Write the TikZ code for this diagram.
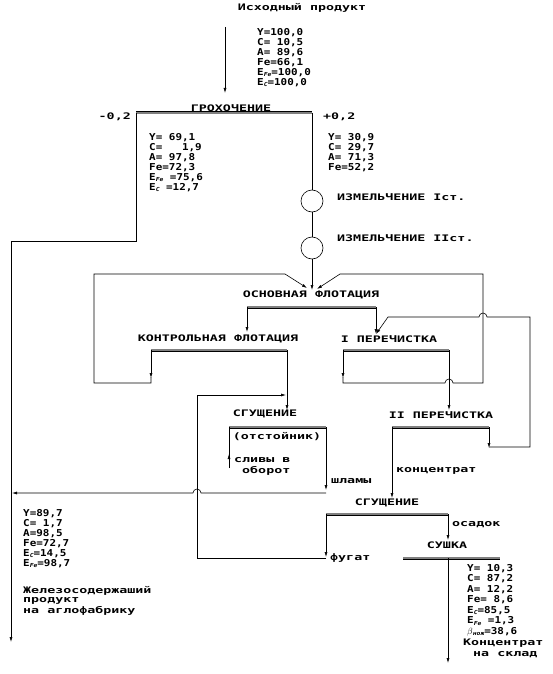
\documentclass[tikz,border=0pt]{standalone}
\usepackage{fontspec}
\newfontfamily\datafont[FakeStretch=1.15]{DejaVu Sans Mono}
\newfontfamily\labelfont[FakeStretch=1.48]{DejaVu Sans Mono}
\usetikzlibrary{arrows.meta}
\newcommand\lowix[1]{\raisebox{-1.6pt}{\fontsize{5.5}{5.5}\selectfont\itshape #1}}
\tikzset{
  flow/.style={line width=0.6pt},
  arr/.style={-{Latex[length=5pt,width=3pt]}},
  screen/.style={draw=black, line width=0.7pt, double=black!50, double distance=1.6pt},
  mill/.style={circle, draw, line width=0.6pt, minimum size=22pt, inner sep=0pt},
  lab/.style={font=\fontsize{9}{10}\selectfont\labelfont\bfseries, inner sep=0pt},
  dat/.style={font=\fontsize{9.5}{10}\selectfont\datafont\bfseries, align=left, inner sep=0pt, anchor=north west},
}
\begin{document}
\begin{tikzpicture}[x=1pt,y=-1pt]
\useasboundingbox (0,0) rectangle (553,674);
% key points
\coordinate (grL) at (136,113); \coordinate (grR) at (312,113);
\coordinate (ofL) at (247,307); \coordinate (ofR) at (376,307);
\coordinate (kfL) at (151,350); \coordinate (kfR) at (287,350);
\coordinate (p1L) at (343,350); \coordinate (p1R) at (449,350);
\coordinate (p2L) at (392,427); \coordinate (p2R) at (489,427);
\coordinate (sg1L) at (229,427); \coordinate (sg1R) at (326,427);
\coordinate (sg2L) at (326,514); \coordinate (sg2R) at (448,514);
\coordinate (suL) at (403,558); \coordinate (suR) at (500,558);
\coordinate (ofin) at (312,290); \coordinate (p1in) at (376,334);
% labels
\node[lab] (feed) at (302,8) {Исходный продукт};
\node[lab] (grlab) at (231,108) {ГРОХОЧЕНИЕ};
\node[lab,anchor=east] (minus) at (131,117) {-0,2};
\node[lab,anchor=west] (plus) at (323,117) {+0,2};
\node[mill] (mill1) at (312,201) {};
\node[mill] (mill2) at (312,248) {};
\node[lab,anchor=west] (m1lab) at (337,197) {ИЗМЕЛЬЧЕНИЕ Iст.};
\node[lab,anchor=west] (m2lab) at (337,238) {ИЗМЕЛЬЧЕНИЕ IIст.};
\node[lab] (oflab) at (311,295) {ОСНОВНАЯ ФЛОТАЦИЯ};
\node[lab] (kflab) at (218,339) {КОНТРОЛЬНАЯ ФЛОТАЦИЯ};
\node[lab] (p1lab) at (389,339) {I ПЕРЕЧИСТКА};
\node[lab] (p2lab) at (441,415) {II ПЕРЕЧИСТКА};
\node[lab] (sg1lab) at (265,414) {СГУЩЕНИЕ};
\node[lab] (ots) at (277,437) {(отстойник)};
\node[lab,anchor=west] (sliv1) at (234,460) {сливы в};
\node[lab,anchor=west] (sliv2) at (242,471) {оборот};
\node[lab,anchor=west] (shl) at (331,481) {шламы};
\node[lab,anchor=west] (konc) at (396,471) {концентрат};
\node[lab] (sg2lab) at (387,503) {СГУЩЕНИЕ};
\node[lab,anchor=west] (osad) at (452,525) {осадок};
\node[lab] (sulab) at (447,545) {СУШКА};
\node[lab,anchor=west] (fug) at (330,558) {фугат};
\node[lab,anchor=west] (kc1) at (463,643) {Концентрат};
\node[lab,anchor=west] (kc2) at (473,655) {на склад};
\node[lab,anchor=west] (fe1) at (23,591) {Железосодержаший};
\node[lab,anchor=west] (fe2) at (23,601) {продукт};
\node[lab,anchor=west] (fe3) at (23,611) {на аглофабрику};
% balance data
\node[dat] (dfeed) at (257,28) {Y=100,0\\C=~10,5\\A=~89,6\\Fe=66,1\\E\lowix{Fe}=100,0\\E\lowix{C}=100,0};
\node[dat] (dminus) at (149,133) {Y=~69,1\\C=~~~1,9\\A=~97,8\\Fe=72,3\\E\lowix{Fe}~=75,6\\E\lowix{C}~=12,7};
\node[dat] (dplus) at (328,133) {Y=~30,9\\C=~29,7\\A=~71,3\\Fe=52,2};
\node[dat] (dfe) at (23,509) {Y=89,7\\C=~1,7\\A=98,5\\Fe=72,7\\E\lowix{C}=14,5\\E\lowix{Fe}=98,7};
\node[dat,font=\fontsize{9.5}{10.5}\selectfont\datafont\bfseries] (dc) at (467,564) {Y=~10,3\\C=~87,2\\A=~12,2\\Fe=~8,6\\E\lowix{C}=85,5\\E\lowix{Fe}~=1,3\\$\beta$\lowix{нож}=38,6};
% screens
\draw[screen] (grL) -- (grR);
\draw[screen] (ofL) -- (ofR);
\draw[screen] (kfL) -- (kfR);
\draw[screen] (p1L) -- (p1R);
\draw[screen] (p2L) -- (p2R);
\draw[screen] (sg1L) -- (sg1R);
\draw[screen] (sg2L) -- (sg2R);
\draw[screen] (suL) -- (suR);
% flows
\draw[flow,arr] (225,27) -- (225,93);
\draw[flow,arr] (grL) -- (136,241) -- (11,241) -- (11,642);
\draw[flow] (grR) -- (mill1);
\draw[flow] (mill1) -- (mill2);
\draw[flow,arr] (mill2) -- (ofin);
\draw[flow,arr] (ofL) -- (247,332);
\draw[flow,arr] (ofR) -- (p1in);
\draw[flow,arr] (kfL) -- (151,378);
\draw[flow,arr] (151,377) -- (151,383) -- (94,383) -- (94,274) -- (285,274) -- (307,288);
\draw[flow,arr] (p1L) -- (343,378);
\draw[flow,arr] (343,377) -- (343,383) -- (445,383) arc[start angle=180,end angle=360,radius=4] -- (483,383) -- (483,274) -- (340,274) -- (317,289);
\draw[flow,arr] (p1R) -- (449,410);
\draw[flow,arr] (p2R) -- (489,448);
\draw[flow,arr] (489,447) -- (530,447) -- (530,317) -- (487,317) arc[start angle=0,end angle=-180,radius=4] -- (388,317) -- (p1in);
\draw[flow,arr] (kfR) -- (287,410);
\draw[flow] (sg1L) -- (229,468);
\draw[flow,arr] (229,468) -- (229,454);
\draw[flow,arr] (sg1R) -- (326,490);
\draw[flow,arr] (326,493) -- (201,493) arc[start angle=0,end angle=-180,radius=4] -- (12,493);
\draw[flow,arr] (p2L) -- (392,498);
\draw[flow,arr] (sg2L) -- (326,557);
\draw[flow,arr] (326,558) -- (197,558) -- (197,395) -- (286,395);
\draw[flow,arr] (sg2R) -- (448,540);
\draw[flow,arr] (448,558) -- (448,663);
\end{tikzpicture}
\end{document}
